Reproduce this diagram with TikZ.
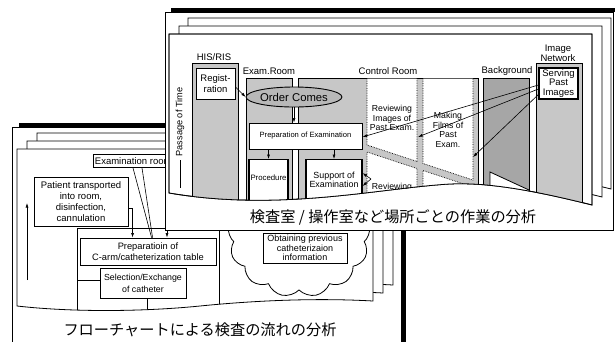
\documentclass[tikz,border=0pt]{standalone}
\usepackage{fontspec}
\setmainfont{Liberation Sans}
\newfontfamily\jpfont{Noto Sans CJK JP}
\usetikzlibrary{arrows.meta,shapes.geometric,shapes.symbols}
\definecolor{colgray}{gray}{0.78}
\definecolor{bggray}{gray}{0.65}
\definecolor{ovalgray}{gray}{0.72}
\newcommand\fspage{(169,34) -- (592,34) -- (592,205) .. controls (540,192) and (490,182) .. (450,184) .. controls (380,188) and (280,212) .. (169,193) -- cycle}
\newcommand\bspage{(17,149) -- (373,149) -- (373,301) .. controls (320,298) and (260,300) .. (200,306) .. controls (140,312) and (70,312) .. (17,306) -- cycle}
\begin{document}
\begin{tikzpicture}[x=1pt,y=-1pt,
  pagebox/.style={draw=black,fill=white,line width=0.8pt},
  column/.style={draw=black,fill=colgray,line width=0.9pt},
  wbox/.style={draw=black,fill=white,line width=0.9pt,inner sep=1pt,align=center},
  fa/.style={font=\fontsize{9.5}{11}\selectfont},
  fb/.style={font=\fontsize{8.7}{9.2}\selectfont},
  lbl/.style={font=\fontsize{9.5}{9.5}\selectfont,inner sep=0pt,align=center},
  arr/.style={-{Latex[length=4.5pt,width=3pt]},line width=0.6pt},
  thin/.style={line width=0.6pt},
  dotl/.style={densely dotted,line width=0.7pt},
  ttl/.style={font=\jpfont\fontsize{15.2}{16}\selectfont,inner sep=0pt}
]
\useasboundingbox (0,0) rectangle (615,341);
% ---------------- back stack (flowchart) ----------------
\fill[black] (19,123) rectangle (406,345);
\draw[pagebox] (12,127) rectangle (401,350);
\draw[pagebox,shift={(20,-16)}] \bspage;
\draw[pagebox,shift={(10,-8)}] \bspage;
\draw[pagebox] \bspage;
\node[wbox,fa,anchor=west,minimum height=13,inner sep=1.5pt] (exr) at (93,161) {Examination room};
\node[wbox,fa,minimum width=94,minimum height=49] (pat) at (81,201.5) {Patient transported\\into room,\\disinfection,\\cannulation};
\node[wbox,font=\fontsize{9.3}{11}\selectfont,minimum width=136,minimum height=27] (prep2) at (148,251.5) {Preparatioin of\\C-arm/catheterization table};
\node[wbox,font=\fontsize{8.8}{12}\selectfont,minimum width=86,minimum height=30] (sel) at (143,283) {Selection/Exchange\\of catheter};
\coordinate (cl0) at (77,280);
\coordinate (cl1) at (147,330);
\begin{scope}
\clip \bspage;
\draw[line width=0.8pt] (77,330) -- (77,228) -- (219,228) -- (219,330);
\draw[line width=0.8pt] (cl0) -- (sel.west |- cl0);
\draw[line width=0.8pt] (sel.south -| cl1) -- (cl1);
\end{scope}
\node[cloud,draw,line width=0.8pt,fill=white,cloud puffs=13,cloud puff arc=115,cloud ignores aspect,minimum width=142,minimum height=124] (cl) at (299,235) {};
\node[wbox,font=\fontsize{9}{9.5}\selectfont,minimum width=84,minimum height=30] (obt) at (305,248) {Obtaining previous\\catheterizaion\\information};
\coordinate (ua0) at (27,280);
\coordinate (ua1) at (27,203);
\draw[arr] (ua0) -- (ua1);
\draw[thin] ([xshift=40pt]exr.south west) -- ([xshift=72pt]prep2.north west);
\draw[thin] ([xshift=49pt]exr.south west) -- ([xshift=73pt]prep2.north west);
\draw[arr] ([yshift=-6.5pt]pat.east) -| ([xshift=53pt]prep2.north west);
\node[ttl] (bt) at (200,330) {フローチャートによる検査の流れの分析};
% ---------------- front stack (rooms) ----------------
\fill[black] (171,8) rectangle (615,12);
\draw[pagebox] (165,12) rectangle (613,230);
\draw[pagebox,shift={(19,-16)}] \fspage;
\draw[pagebox,shift={(10,-8)}] \fspage;
\draw[pagebox] \fspage;
\begin{scope}
\clip \fspage;
\draw[column] (192,63) rectangle (238,240);
\draw[column] (246,78) rectangle (292,240);
\draw[column] (298,78) rectangle (478,240);
\draw[column,fill=bggray] (483,78) rectangle (529,240);
\draw[column] (536,63) rectangle (582,240);
\fill[white] (367,78.5) -- (417,78.5) -- (417,161.5) -- (367,145) -- cycle;
\fill[white] (367,152) -- (417,168.5) -- (417,240) -- (367,240) -- cycle;
\fill[white] (423,78.5) -- (473,78.5) -- (473,180) -- (423,163.5) -- cycle;
\fill[white] (423,170.5) -- (473,187) -- (473,240) -- (423,240) -- cycle;
\draw[dotl] (367,78) -- (367,145) -- (417,161.5) -- (417,78);
\draw[dotl] (367,240) -- (367,152) -- (417,168.5) -- (417,240);
\draw[dotl] (423,78) -- (423,163.5) -- (473,180) -- (473,78);
\draw[dotl] (423,240) -- (423,170.5) -- (473,187) -- (473,240);
\draw[fill=white,line width=0.8pt] (490,240) -- (490,172) -- (529,190) -- (529,240);
\node[wbox,line width=1.1pt,minimum width=39,minimum height=81,anchor=north] (proc) at (268.5,159) {};
\node[font=\fontsize{7.8}{8}\selectfont,inner sep=0pt] (proct) at (268.5,178) {Procedure};
\node[wbox,line width=1.1pt,minimum width=56,minimum height=81,anchor=north] (sup) at (334,159) {};
\node[font=\fontsize{8.9}{9}\selectfont,inner sep=0pt,align=center] (supt) at (334,179.5) {Support of\\Examination};
\node[fb,inner sep=0pt] (rev2) at (392,187) {Reviewing};
\end{scope}
\draw[line width=0.8pt] \fspage;
\node[font=\fontsize{9.2}{9.5}\selectfont,rotate=90,inner sep=0pt] (pot) at (180,122) {Passage of Time};
\draw[line width=0.7pt] ([yshift=-3.5pt]pot.west) -- ++(0,28);
\node[lbl] (his) at (214,57) {HIS/RIS};
\node[lbl] (exl) at (269,71) {Exam.Room};
\node[lbl] (crl) at (388,71) {Control Room};
\node[lbl] (bgl) at (507,71) {Background};
\node[lbl] (inl) at (558,53.5) {Image\\Network};
\node[wbox,fa,minimum width=39,minimum height=31] (reg) at (215.5,83.5) {Regist-\\ration};
\node[wbox,font=\fontsize{9.5}{9.5}\selectfont,minimum width=39,minimum height=31,line width=1.2pt] (serv) at (558.5,83.5) {Serving\\Past\\Images};
\node[ellipse,draw,line width=0.9pt,fill=ovalgray,minimum width=91,minimum height=20,inner sep=0pt,font=\fontsize{11.3}{12}\selectfont] (oc) at (294,97) {Order Comes};
\node[wbox,font=\fontsize{7.6}{8}\selectfont,minimum width=113,minimum height=26] (prep) at (305.5,136) {Preparation of Examination};
\node[fb,inner sep=0pt,align=center] (revt) at (392,118) {Reviewing\\Images of\\Past Exam.};
\node[font=\fontsize{8.7}{9.5}\selectfont,inner sep=0pt,align=center] (mak) at (448,130) {Making\\Films of\\Past\\Exam.};
\draw[arr] ([yshift=-3.5pt]reg.east) -- (oc.west);
\draw[arr] (oc.south) -- (oc.south |- prep.north);
\draw[arr] (prep.south -| proc.north) -- (proc.north);
\draw[arr] (prep.south -| sup.north) -- (sup.north);
\coordinate (a1r) at (418,137);
\coordinate (a2r) at (473,157);
\draw[arr] ([yshift=-1.5pt]serv.west) -- ([yshift=-1pt]prep.east);
\draw[arr] ([yshift=-5.5pt]serv.west) -- (a1r);
\draw[arr] ([yshift=-11pt]serv.west) -- (a2r);
\coordinate (rv1) at (371,179);
\coordinate (s1) at (362,173);
\coordinate (s2) at (362,186);
\draw[arr] (rv1) -- (sup.east |- s1);
\draw[arr] (rv1) -- (sup.east |- s2);
\node[ttl] (ft) at (393,217) {検査室 / 操作室など場所ごとの作業の分析};
\coordinate (fsb) at (167,230);
\draw[arr] (fsb) -- (fsb |- prep2.north);
\end{tikzpicture}
\end{document}
